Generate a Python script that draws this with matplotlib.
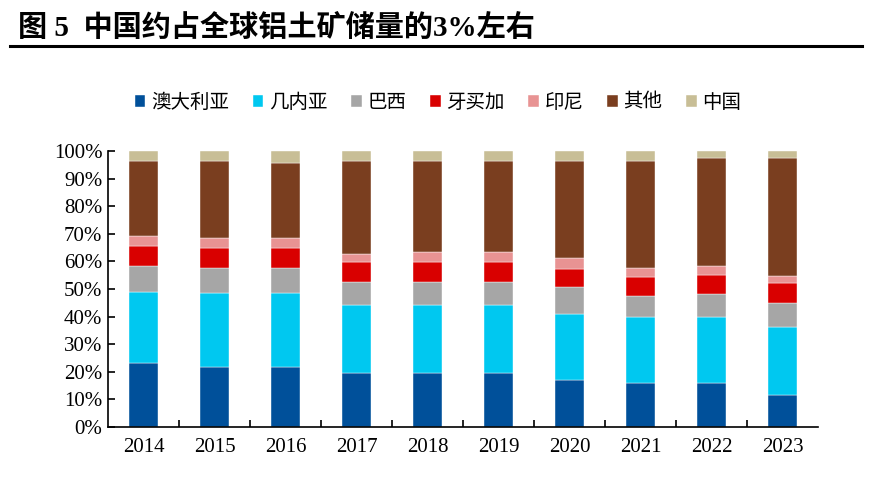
import numpy as np
import matplotlib.pyplot as plt
from matplotlib.ticker import PercentFormatter

plt.rcParams['font.family'] = ['Liberation Serif', 'Noto Sans CJK SC']

years = ['2014', '2015', '2016', '2017', '2018', '2019', '2020', '2021', '2022', '2023']
names = ['澳大利亚', '几内亚', '巴西', '牙买加', '印尼', '其他', '中国']
# share of world bauxite reserves, %
australia = [23.2, 21.7, 21.7, 19.6, 19.6, 19.6, 17.0, 16.0, 16.0, 11.6]
guinea = [25.8, 26.7, 26.7, 24.5, 24.5, 24.5, 24.1, 23.8, 23.8, 24.5]
brazil = [9.3, 9.3, 9.3, 8.5, 8.5, 8.5, 9.5, 7.7, 8.4, 8.7]
jamaica = [7.2, 7.2, 7.2, 7.2, 7.2, 7.2, 6.5, 6.7, 6.7, 7.2]
indonesia = [3.6, 3.5, 3.5, 2.9, 3.6, 3.6, 4.2, 3.5, 3.5, 2.8]
others = [27.4, 28.1, 27.4, 33.8, 33.1, 33.1, 35.2, 38.8, 38.9, 42.5]
china = [3.5, 3.5, 4.2, 3.5, 3.5, 3.5, 3.5, 3.5, 2.7, 2.7]

series = [australia, guinea, brazil, jamaica, indonesia, others, china]
colors = ['#00509a', '#00c8f0', '#a6a6a6', '#d90000', '#e89393', '#7a3e1f', '#c8be96']

fig = plt.figure(figsize=(8.7, 4.92), dpi=100)
ax = fig.add_axes([108 / 870, 1 - 427 / 492, 710 / 870, 276 / 492])

x = np.arange(len(years))
bottom = np.zeros(len(years))
for vals, name, c in zip(series, names, colors):
    vals = np.array(vals)
    ax.bar(x, vals, 0.42, bottom=bottom, color=c, label=name, edgecolor='white', linewidth=0.3)
    bottom += vals

ax.set_xlim(-0.5, len(years) - 0.5)
ax.set_ylim(0, 100)
ax.set_yticks(np.arange(0, 101, 10))
ax.yaxis.set_major_formatter(PercentFormatter(decimals=0))
ax.set_xticks(x)
ax.set_xticklabels(years)
ax.set_xticks(np.arange(0.5, len(years) - 0.5, 1), minor=True)
ax.tick_params(axis='x', which='major', length=0, labelsize=15, pad=8)
ax.tick_params(axis='x', which='minor', direction='in', length=5, width=1.2)
ax.tick_params(axis='y', direction='in', length=5, width=1.2, labelsize=15, pad=4)
for s in ['top', 'right']:
    ax.spines[s].set_visible(False)
for s in ['left', 'bottom']:
    ax.spines[s].set_linewidth(1.2)

ax.legend(loc='lower center', bbox_to_anchor=(0.465, 1.075), ncol=7, frameon=False,
          prop={'family': ['Noto Sans CJK SC'], 'size': 14},
          handlelength=0.55, handleheight=0.55, handletextpad=0.3, columnspacing=1.2)

fig.text(18 / 870, 1 - 28 / 492, '图 5  中国约占全球铝土矿储量的3%左右', fontsize=21,
         fontweight='bold', va='center', ha='left')
fig.add_artist(plt.Line2D([10 / 870, 862 / 870], [1 - 46 / 492, 1 - 46 / 492], color='black', linewidth=2.2))

fig.savefig('out.png', dpi=100)
